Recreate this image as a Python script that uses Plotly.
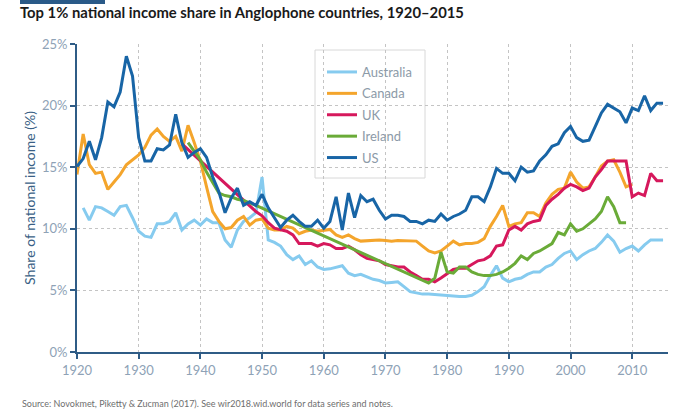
import plotly.graph_objects as go

# values (top 1% share of national income, %)
australia_years = list(range(1921, 2016))
australia_share = [11.7, 10.7, 11.8, 11.7, 11.4, 11.1, 11.8, 11.9, 10.9,
                   9.8, 9.4, 9.3, 10.4, 10.4, 10.6, 11.3, 9.9, 10.4, 10.7,
                   10.3, 10.8, 10.5, 10.5, 9.1, 8.5, 9.9, 10.6, 10.9, 11.3,
                   14.2, 9.1, 8.9, 8.6, 7.9, 7.5, 7.8, 7.1, 7.4, 6.9,
                   6.7, 6.75, 6.9, 7.0, 6.4, 6.2, 6.3, 6.1, 5.9, 5.8,
                   5.6, 5.65, 5.7, 5.3, 4.9, 4.8, 4.7, 4.7, 4.65, 4.6,
                   4.6, 4.5, 4.5, 4.5, 4.6, 4.9, 5.3, 6.2, 7.0, 6.0,
                   5.7, 5.9, 6.0, 6.3, 6.5, 6.5, 6.9, 7.1, 7.6, 8.0,
                   8.2, 7.5, 7.9, 8.2, 8.4, 8.9, 9.5, 9.0, 8.1, 8.4,
                   8.6, 8.2, 8.7, 9.1, 9.1, 9.1]

canada_years = list(range(1920, 2011))
canada_share = [14.4, 17.7, 15.2, 14.5, 14.6, 13.2, 13.8, 14.4, 15.2, 15.6,
                16.0, 16.6, 17.6, 18.1, 17.5, 17.1, 17.5, 16.3, 18.4, 17.0,
                15.5, 13.4, 11.4, 10.6, 10.0, 10.1, 10.7, 11.0, 10.3, 10.7,
                10.8, 10.05, 9.9, 9.9, 10.2, 10.05, 9.6, 9.8, 9.9, 9.8,
                9.9, 9.95, 9.5, 9.3, 9.5, 9.2, 9.0, 9.05, 9.1, 9.1,
                9.05, 9.0, 9.05, 9.05, 9.0, 9.0, 8.6, 8.2, 8.05, 8.2,
                8.6, 9.0, 8.7, 8.8, 8.8, 8.9, 9.2, 10.2, 11.0, 11.9,
                10.2, 10.4, 10.5, 11.3, 11.3, 11.0, 12.1, 12.8, 13.2, 13.3,
                14.6, 13.8, 13.3, 13.4, 14.2, 15.1, 15.5, 15.6, 14.6, 13.4,
                13.6]

uk_years = [1937] + list(range(1949, 2016))
uk_share = [16.9,
            11.4,
            11.05, 10.5, 10.05, 9.9, 9.8, 9.5, 8.8, 8.8, 8.8, 8.6,
            8.8, 8.7, 8.4, 8.4, 8.6, 8.3, 7.9, 7.6, 7.5, 7.4,
            7.1, 7.0, 6.9, 6.9, 6.5, 6.2, 5.9, 5.9, 5.7, 6.0,
            6.35, 6.7, 6.8, 6.8, 7.1, 7.4, 7.5, 7.8, 8.6, 8.7,
            9.9, 10.2, 9.9, 10.4, 10.6, 10.7, 11.9, 12.4, 12.8, 13.3,
            13.6, 13.4, 13.1, 13.3, 14.2, 14.8, 15.5, 15.5, 15.5, 15.5,
            12.6, 12.9, 12.7, 14.5, 13.9, 13.9]

ireland_years = list(range(1938, 1950)) + list(range(1977, 2010))
ireland_share = [17.0, 16.3, 15.6, 14.6, 13.7, 12.9, 12.7, 12.6, 12.4, 12.3, 12.1, 11.9,
                 5.6, 6.0, 8.1,
                 6.5, 6.4, 6.9, 6.9, 6.5, 6.3, 6.2, 6.2, 6.3, 6.5,
                 6.8, 7.2, 7.8, 7.5, 8.0, 8.2, 8.5, 8.8, 9.7, 9.5,
                 10.4, 9.8, 10.0, 10.4, 10.8, 11.4, 12.6, 11.8, 10.5, 10.5]

us_years = list(range(1920, 2016))
us_share = [15.05, 15.7, 17.1, 15.6, 17.4, 20.3, 19.9, 21.1, 24.0, 22.4,
            17.4, 15.5, 15.5, 16.5, 16.4, 16.8, 19.3, 17.0, 15.8, 16.2,
            16.5, 15.8, 14.2, 13.0, 11.3, 12.5, 13.3, 11.9, 12.2, 11.9,
            12.8, 11.7, 10.9, 10.1, 10.7, 11.1, 10.6, 10.2, 10.2, 10.7,
            10.05, 10.6, 12.6, 9.9, 12.9, 10.9, 12.7, 12.2, 12.4, 11.5,
            10.8, 11.1, 11.1, 11.0, 10.6, 10.6, 10.4, 10.7, 10.6, 11.2,
            10.7, 11.0, 11.2, 11.5, 12.6, 12.6, 12.2, 13.4, 14.9, 14.5,
            14.5, 13.9, 15.0, 14.6, 14.7, 15.5, 16.0, 16.7, 16.9, 17.8,
            18.3, 17.4, 17.1, 17.2, 18.3, 19.4, 20.1, 19.8, 19.5, 18.6,
            19.8, 19.6, 20.8, 19.6, 20.2, 20.2]

x_ticks = list(range(1920, 2011, 10))
y_ticks = [0, 5, 10, 15, 20, 25]
y_tick_labels = ['0%', '5%', '10%', '15%', '20%', '25%']

SERIES = [('Australia', australia_years, australia_share, '#86cbef'),
          ('Canada', canada_years, canada_share, '#f4a52c'),
          ('UK', uk_years, uk_share, '#d6185c'),
          ('Ireland', ireland_years, ireland_share, '#6aab38'),
          ('US', us_years, us_share, '#1865a6')]

FONT = 'Lato'
AXIS_COLOR = '#2f5c86'
TICK_COLOR = '#8ea2b6'

# plot area in page pixels: x 77..668, y 44..352
PLOT_W, PLOT_H = 591, 308


def px_x(x):
    '''page pixel -> paper x'''
    return (x - 77) / PLOT_W


def px_y(y):
    '''page pixel -> paper y'''
    return (352 - y) / PLOT_H


fig = go.Figure()
for name, years, share, color in SERIES:
    fig.add_trace(go.Scatter(x=years, y=share, name=name, mode='lines',
                             legendgroup=name,
                             line=dict(color=color, width=3)))

axis_style = dict(showline=True, linecolor=AXIS_COLOR, linewidth=2,
                  ticks='outside', ticklen=5, tickwidth=2, tickcolor=AXIS_COLOR,
                  showgrid=True, gridcolor='#c4c4c4', griddash='dot', gridwidth=1,
                  zeroline=False,
                  tickfont=dict(family=FONT, size=13, color=TICK_COLOR))

fig.update_xaxes(range=[1920, 2015.8], tickvals=x_ticks, **axis_style)
fig.update_yaxes(range=[0, 25], tickvals=y_ticks, ticktext=y_tick_labels,
                 title=dict(text='Share of national income (%)', standoff=3,
                            font=dict(family=FONT, size=14, color='#3a5f85')),
                 **axis_style)

fig.update_layout(
    width=680, height=413,
    margin=dict(l=77, r=12, t=44, b=61),
    plot_bgcolor='white', paper_bgcolor='white',
    font=dict(family=FONT),
    title=dict(text='<b>Top 1% national income share in Anglophone countries, 1920–2015</b>',
               x=20 / 680, xref='container', xanchor='left',
               y=1 - 13 / 413, yref='container', yanchor='middle',
               font=dict(family=FONT, size=14.8, color='#1a1a1a')),
    legend=dict(x=px_x(322), y=px_y(57), xanchor='left', yanchor='top',
                bgcolor='rgba(0,0,0,0)', borderwidth=0,
                tracegroupgap=1.5,
                font=dict(family=FONT, size=13, color='#8c9aa8'),
                itemwidth=30),
    shapes=[dict(type='rect', xref='paper', yref='paper',
                 x0=px_x(20), x1=px_x(105), y0=px_y(4), y1=px_y(0),
                 fillcolor='#2a5a88', line=dict(width=0)),
            dict(type='rect', xref='paper', yref='paper', layer='below',
                 x0=px_x(315), x1=px_x(425), y0=px_y(178), y1=px_y(50),
                 fillcolor='white', line=dict(color='#d8d8d8', width=1))],
    annotations=[dict(text='Source: Novokmet, Piketty & Zucman (2017). See wir2018.wid.world for data series and notes.',
                      xref='paper', yref='paper', x=px_x(20), y=px_y(403),
                      xanchor='left', yanchor='middle', showarrow=False,
                      font=dict(family=FONT, size=9, color='#6e6e6e'))],
)

# drop the default page margin so the figure sits at the window's corner
fig.write_html('out.html', config={'displayModeBar': False},
               post_script="document.body.style.margin='0';")
